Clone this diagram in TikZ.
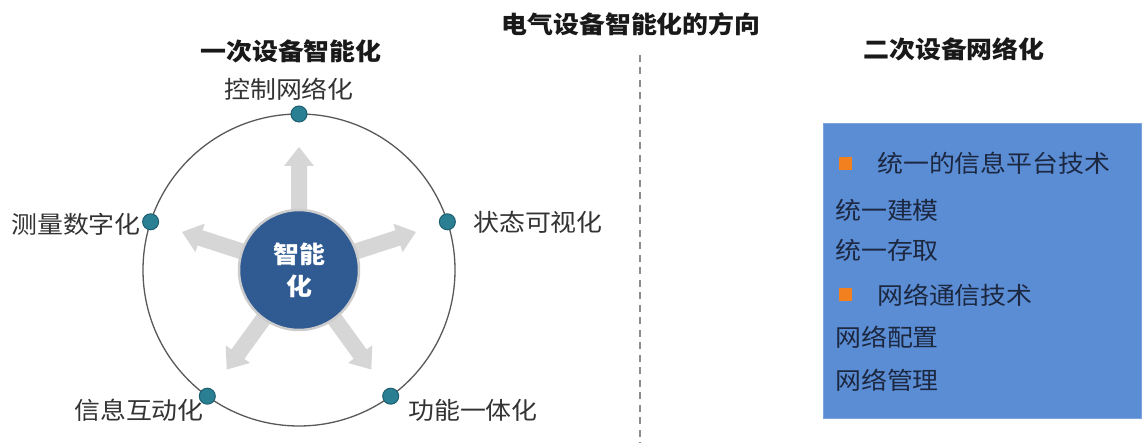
\documentclass[tikz,border=0pt]{standalone}
\usepackage{fontspec}
\setmainfont{Liberation Sans}
\newfontfamily\cjk[FakeStretch=1.08]{Noto Sans CJK SC}
\usetikzlibrary{calc}
\definecolor{boxblue}{HTML}{5B8DD5}
\definecolor{bulletorange}{HTML}{F2801F}
\definecolor{hubblue}{HTML}{2F5B92}
\definecolor{dotteal}{HTML}{2B7F93}
\definecolor{dotedge}{HTML}{1D5F70}
\definecolor{arrowgray}{HTML}{D6D6D6}
\definecolor{labelgray}{HTML}{333333}
\definecolor{boxtext}{HTML}{1C2740}
\tikzset{
  cjktext/.style={font=\cjk\fontsize{24}{28}\selectfont, inner sep=0pt},
  heading/.style={cjktext, font=\cjk\bfseries\fontsize{24}{28}\selectfont, text=black!90},
  label/.style={cjktext, text=labelgray},
  boxline/.style={cjktext, text=boxtext, anchor=west},
  dotmark/.style={circle, fill=dotteal, draw=dotedge, line width=1pt, minimum size=16pt, inner sep=0pt},
  bulletsq/.style={fill=bulletorange, minimum size=13pt, inner sep=0pt},
  ringline/.style={draw=black!65, line width=1.3pt, fill=white},
  bigarrow/.style={fill=arrowgray, draw=none},
}
\begin{document}
\begin{tikzpicture}[x=1pt,y=1pt]
\useasboundingbox (0,0) rectangle (1143,443);
\fill[white] (0,0) rectangle (1143,443);

% title and headings
\node[heading] (title) at (631,419) {电气设备智能化的方向};
\node[heading] (h1) at (291,392) {一次设备智能化};
\node[heading] (h2) at (954,394) {二次设备网络化};

% divider
\coordinate (dtop) at (640,388);
\coordinate (dbot) at (640,0);
\draw[black!45, line width=2pt, dash pattern=on 7pt off 5.5pt] (dtop) -- (dbot);

% ring
\coordinate (C) at (299,173);
\draw[ringline] (C) circle (156);

% arrows
\foreach \a in {90,18,162,234,306}{
  \begin{scope}[shift={(C)}, rotate=\a]
    \fill[bigarrow] (40,-8) -- (104,-8) -- (104,-15) -- (123,0) -- (104,15) -- (104,8) -- (40,8) -- cycle;
  \end{scope}
}

% hub
\node[circle, fill=hubblue, draw=black!20, line width=2.5pt, minimum size=120pt, inner sep=0pt,
      text=white, align=center, font=\cjk\bfseries\fontsize{24}{32}\selectfont] (hub) at (C) {智能\\化};

% dots
\node[dotmark] (d1) at ($(C)+(90:156)$) {};
\node[dotmark] (d2) at ($(C)+(18:156)$) {};
\node[dotmark] (d3) at ($(C)+(162:156)$) {};
\node[dotmark] (d4) at ($(C)+(234:156)$) {};
\node[dotmark] (d5) at ($(C)+(306:156)$) {};

% labels
\node[label] (l1) at (289,354) {控制网络化};
\node[label] (l2) at (538,221) {状态可视化};
\node[label] (l3) at (76,219) {测量数字化};
\node[label] (l4) at (139,33) {信息互动化};
\node[label] (l5) at (473,33) {功能一体化};

% right box
\node[fill=boxblue, draw=boxblue!80!white, line width=1pt, minimum width=318pt, minimum height=295pt,
      anchor=north west, inner sep=0pt] (box) at (823,320) {};
\node[bulletsq] (b1) at (845,279) {};
\node[boxline] (t1) at (877,280) {统一的信息平台技术};
\node[boxline] (t2) at (835,233) {统一建模};
\node[boxline] (t3) at (835,193) {统一存取};
\node[bulletsq] (b2) at (845,148) {};
\node[boxline] (t4) at (877,148) {网络通信技术};
\node[boxline] (t5) at (835,106) {网络配置};
\node[boxline] (t6) at (835,63) {网络管理};
\end{tikzpicture}
\end{document}
